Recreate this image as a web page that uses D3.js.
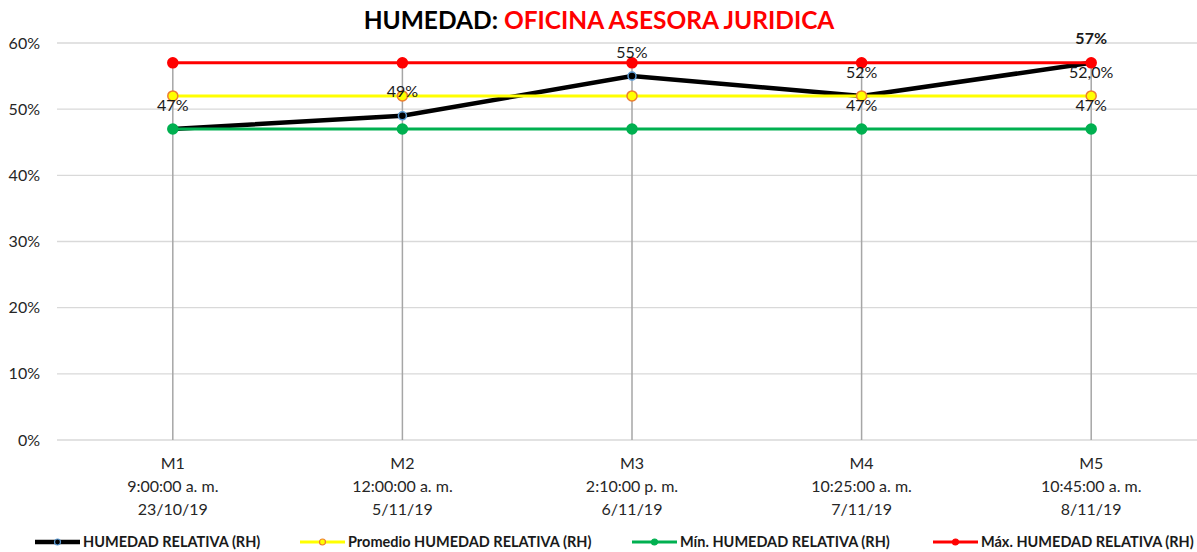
<!DOCTYPE html>
<html>
<head>
<meta charset="utf-8">
<script src="https://cdn.jsdelivr.net/npm/d3@7"></script>
<style>
  body { margin: 0; background: #fff; }
  text { font-family: Lato, "Liberation Sans", sans-serif; }
</style>
</head>
<body>
<div id="chart"></div>
<script>
// data
const categories = ["M1", "M2", "M3", "M4", "M5"];
const times = ["9:00:00 a. m.", "12:00:00 a. m.", "2:10:00 p. m.", "10:25:00 a. m.", "10:45:00 a. m."];
const dates = ["23/10/19", "5/11/19", "6/11/19", "7/11/19", "8/11/19"];
const humedad = [0.47, 0.49, 0.55, 0.52, 0.57];
const promedio = [0.52, 0.52, 0.52, 0.52, 0.52];
const minimo = [0.47, 0.47, 0.47, 0.47, 0.47];
const maximo = [0.57, 0.57, 0.57, 0.57, 0.57];
const yTicks = [0, 0.1, 0.2, 0.3, 0.4, 0.5, 0.6];
const seriesNames = ["HUMEDAD RELATIVA (RH)", "Promedio HUMEDAD RELATIVA (RH)", "Mín. HUMEDAD RELATIVA (RH)", "Máx. HUMEDAD RELATIVA (RH)"];

const width = 1197, height = 552;
const svg = d3.select("#chart").append("svg")
    .attr("width", width).attr("height", height);

const x = d3.scaleBand().domain(categories).range([58, 1206]).padding(0);
const cx = d => x(d) + x.bandwidth() / 2;
const y = d3.scaleLinear().domain([0, 0.6]).range([440, 43]);

// gridlines
svg.append("g").selectAll("line").data(yTicks).enter().append("line")
    .attr("x1", 57).attr("x2", width)
    .attr("y1", d => y(d)).attr("y2", d => y(d))
    .attr("stroke", "#d9d9d9").attr("stroke-width", 1.3);

// y labels
svg.append("g").selectAll("text").data(yTicks).enter().append("text")
    .attr("x", 40).attr("y", d => y(d)).attr("dy", "0.35em")
    .attr("text-anchor", "end").style("font-size", "16px").attr("fill", "#262626")
    .text(d3.format(".0%"));

// drop lines
svg.append("g").selectAll("line").data(categories).enter().append("line")
    .attr("x1", d => cx(d)).attr("x2", d => cx(d))
    .attr("y1", (d, i) => y(d3.max([humedad[i], promedio[i], minimo[i], maximo[i]])))
    .attr("y2", y(0))
    .attr("stroke", "#a6a6a6").attr("stroke-width", 1.5);

// x labels
const xl = svg.append("g").selectAll("text").data(categories).enter().append("text")
    .attr("text-anchor", "middle").style("font-size", "16px").attr("fill", "#262626");
xl.append("tspan").attr("x", d => cx(d)).attr("y", 469).text(d => d);
xl.append("tspan").attr("x", d => cx(d)).attr("y", 492).text((d, i) => times[i]);
xl.append("tspan").attr("x", d => cx(d)).attr("y", 515).text((d, i) => dates[i]);

const series = [
  {values: humedad, color: "#000000", width: 4.5, r: 4, mfill: "#000", mstroke: "#5B9BD5"},
  {values: promedio, color: "#FFFF00", width: 3, r: 5, mfill: "#FFFF00", mstroke: "#ED7D31"},
  {values: minimo, color: "#00B050", width: 3, r: 5, mfill: "#00B050", mstroke: "#00B050"},
  {values: maximo, color: "#FF0000", width: 3, r: 5, mfill: "#FF0000", mstroke: "#FF0000"}
];

const line = d3.line().x((d, i) => cx(categories[i])).y(d => y(d));

series.forEach(s => {
  svg.append("path").datum(s.values)
      .attr("d", line).attr("fill", "none")
      .attr("stroke", s.color).attr("stroke-width", s.width);
  svg.append("g").selectAll("circle").data(s.values).enter().append("circle")
      .attr("cx", (d, i) => cx(categories[i])).attr("cy", d => y(d))
      .attr("r", s.r).attr("fill", s.mfill)
      .attr("stroke", s.mstroke).attr("stroke-width", 1.5);
});

// data labels (above the point)
const labels = [];
humedad.forEach((v, i) => labels.push({cat: categories[i], v: v, text: d3.format(".0%")(v), bold: i === 4}));
[3, 4].forEach(i => labels.push({cat: categories[i], v: minimo[i], text: d3.format(".0%")(minimo[i])}));
labels.push({cat: categories[4], v: promedio[4], text: (promedio[4] * 100).toFixed(1).replace(".", ",") + "%"});

svg.append("g").selectAll("text").data(labels).enter().append("text")
    .attr("x", d => cx(d.cat)).attr("y", d => y(d.v) - 24).attr("dy", "0.35em")
    .attr("text-anchor", "middle").style("font-size", "16px")
    .style("font-weight", d => d.bold ? "bold" : "normal")
    .attr("fill", "#1a1a1a").text(d => d.text);

// title
const title = svg.append("text").attr("x", 599).attr("y", 29)
    .attr("text-anchor", "middle").style("font-size", "24.5px").style("font-weight", "bold");
title.append("tspan").attr("fill", "#000").text("HUMEDAD: ");
title.append("tspan").attr("fill", "#FF0000").text("OFICINA ASESORA JURIDICA");

// legend
const legendX = [35, 300, 632, 933];
const lg = svg.append("g").selectAll("g").data(series).enter().append("g")
    .attr("transform", (d, i) => `translate(${legendX[i]},542)`);
lg.append("line").attr("x1", 0).attr("x2", 45).attr("y1", 0).attr("y2", 0)
    .attr("stroke", d => d.color).attr("stroke-width", d => d.width);
lg.append("circle").attr("cx", 22.5).attr("cy", 0).attr("r", 3)
    .attr("fill", d => d.mfill).attr("stroke", d => d.mstroke).attr("stroke-width", 1.2);
lg.append("text").attr("x", 48).attr("y", 0).attr("dy", "0.35em")
    .style("font-size", "14.5px").style("font-weight", "bold").attr("fill", "#1a1a1a")
    .text((d, i) => seriesNames[i]);
</script>
</body>
</html>
